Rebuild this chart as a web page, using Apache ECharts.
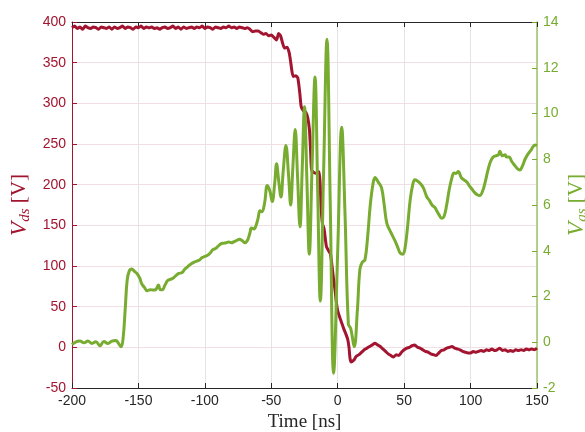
<!DOCTYPE html>
<html>
<head>
<meta charset="utf-8">
<script src="https://cdn.jsdelivr.net/npm/echarts@6/dist/echarts.min.js"></script>
<style>
  html, body { margin: 0; padding: 0; background: #fff; }
  #main { width: 585px; height: 432px; }
</style>
</head>
<body>
<div id="main"></div>
<script>
// time axis ticks
const xTicks = [-200, -150, -100, -50, 0, 50, 100, 150];
const vdsTicks = [-50, 0, 50, 100, 150, 200, 250, 300, 350, 400];
const vgsTicks = [-2, 0, 2, 4, 6, 8, 10, 12, 14];

// Vds [V] vs time [ns]
const vdsData = [
  [-200,393],[-198,395],[-196,392],[-194,394],[-192,391],[-190,395],[-188,393],[-186,392],[-184,394],[-182,393],
  [-180,391],[-178,394],[-176,393],[-174,392],[-172,394],[-170,391],[-168,394],[-166,392],[-164,393],[-162,395],
  [-160,392],[-158,394],[-156,393],[-154,391],[-152,394],[-150,393],[-148,395],[-146,392],[-144,394],[-142,393],
  [-140,394],[-138,392],[-136,393],[-134,391],[-132,393],[-130,394],[-128,392],[-126,393],[-124,395],[-122,392],
  [-120,394],[-118,391],[-116,394],[-114,392],[-112,393],[-110,394],[-108,392],[-106,394],[-104,393],[-102,395],
  [-100,392],[-98,394],[-96,393],[-94,391],[-92,394],[-90,393],[-88,392],[-86,394],[-84,393],[-82,395],
  [-80,393],[-78,394],[-76,392],[-74,394],[-72,393],[-70,392],[-68,393],[-66,391],[-64,388],[-62,389],
  [-60,389],[-58,387],[-56,385],[-54,386],[-52,383],[-50,384],[-48,381],[-46,378],[-44.5,386],[-43,383],
  [-41.5,374],[-40,368],[-38,369],[-36.5,362],[-35.5,352],[-34.5,340],[-33.5,333],[-31.5,334],[-30,331],[-28.5,312],
  [-27.5,296],[-26,291],[-24,289],[-22.5,282],[-21.3,268],[-20.5,245],[-19.7,218],[-18,215],[-16,214],[-14,216],
  [-13.2,200],[-12.6,174],[-11.5,152],[-10.3,146],[-8.5,124],[-7,119],[-5.5,115],[-4.5,103],[-3.2,85],[-2,70],
  [-1,55],[0,45],[1.5,37],[3,30],[4.5,23],[6,17],[7.5,10],[8.5,0],[9.3,-14],[10.3,-18],
  [12,-16],[14,-11],[16,-9],[18,-6],[20,-3],[22,-1],[24,1],[26,3],[28,5],[30,3],
  [32,1],[34,-2],[36,-5],[38,-8],[40,-10],[42,-12],[44,-9],[46,-10],[48,-6],[50,-3],
  [52,-1],[54,0],[56,2],[58,3],[60,0],[62,-1],[64,-3],[66,-5],[68,-6],[70,-8],
  [72,-9],[74,-10],[76,-7],[78,-4],[80,-3],[82,-1],[84,0],[86,1],[88,-1],[90,-2],
  [92,-3],[94,-5],[96,-6],[98,-7],[100,-7],[102,-5],[104,-6],[106,-5],[108,-4],[110,-5],
  [112,-3],[114,-4],[116,-2],[118,-4],[120,-3],[122,-1],[124,-4],[126,-3],[128,-5],[130,-4],
  [132,-5],[134,-3],[136,-4],[138,-3],[140,-4],[142,-2],[144,-3],[146,-2],[148,-3],[150,-1]
];

// Vgs [V] vs time [ns]
const vgsData = [
  [-200,-0.1],[-197,0.02],[-194,0.05],[-191,-0.02],[-188,0.05],[-185,-0.05],[-182,0.02],[-179,-0.15],[-176,0.03],[-173,-0.05],
  [-170,0.05],[-167,0.08],[-165,-0.05],[-163,-0.2],[-161.5,0.2],[-160,1.4],[-158.5,2.7],[-157,3.1],[-155,3.2],[-153,3.1],
  [-151,3.0],[-149,2.8],[-147.5,2.55],[-145.5,2.4],[-143.5,2.25],[-141,2.3],[-139,2.28],[-137,2.3],[-135,2.5],[-133.5,2.3],
  [-132,2.3],[-130,2.5],[-128,2.7],[-126,2.75],[-124,2.8],[-122,2.9],[-120,3.0],[-117,3.05],[-115,3.2],[-113,3.3],
  [-111,3.4],[-108,3.5],[-106,3.55],[-104,3.6],[-102,3.7],[-100,3.75],[-98,3.8],[-96,3.9],[-94,4.05],[-92,4.1],
  [-90,4.2],[-88,4.3],[-86,4.33],[-84,4.35],[-82,4.38],[-80,4.35],[-78,4.4],[-76,4.45],[-74,4.5],[-72,4.45],
  [-70,4.35],[-68,4.45],[-66,4.8],[-65,5.0],[-63,4.95],[-61.5,5.1],[-60,5.4],[-58.5,5.75],[-57,5.7],[-55,6.1],
  [-53,6.85],[-51,6.6],[-49.3,6.15],[-47.5,6.9],[-46,7.8],[-44.5,7.1],[-42.7,6.35],[-41,7.5],[-39,8.6],[-37,7.3],
  [-35.4,6.0],[-33.8,7.6],[-32,9.3],[-30.2,7.2],[-28.4,5.05],[-26.7,7.6],[-25,10.3],[-23.2,7.1],[-21.4,3.85],[-19.3,7.7],
  [-17.1,11.6],[-15.1,6.7],[-13.1,1.8],[-10.6,7.5],[-8.1,13.25],[-5.6,6.0],[-3.1,-1.35],[0,4.0],[3,9.4],[5.5,5.6],
  [8,0.8],[9.8,0.6],[12.4,-0.2],[14.8,1.4],[16.7,3.2],[18.5,3.5],[20.5,3.6],[22.5,4.6],[24.5,6.0],[26.5,6.9],
  [28.1,7.2],[30.5,7.0],[33,6.75],[35,6.0],[37,5.2],[40,4.8],[43.4,4.4],[45.5,4.1],[47,3.9],[49,3.85],
  [50.5,4.05],[52.5,5.0],[54.5,6.2],[56.5,6.9],[58.1,7.1],[60,7.05],[62,6.95],[64.5,6.75],[67,6.36],[69,6.2],
  [71,6.0],[73,5.9],[74.5,5.75],[76,5.6],[78.2,5.42],[80,5.5],[82,6.0],[84,6.7],[86,7.2],[87.5,7.4],
  [89,7.38],[90.7,7.46],[93,7.2],[95,7.1],[97,7.02],[99,6.85],[101,6.7],[103,6.55],[105,6.45],[107,6.42],
  [109,6.6],[111,7.0],[113,7.5],[115,7.9],[117,8.1],[119,8.15],[121,8.2],[122,8.35],[124,8.15],[126,8.2],
  [127,8.1],[129,8.1],[131,7.9],[133,7.75],[135,7.6],[137,7.53],[139,7.7],[141,8.0],[143.5,8.25],[145.5,8.4],
  [147,8.55],[148.6,8.62],[150,8.6]
];

const red = '#a2142f';
const green = '#77ac30';

const chart = echarts.init(document.getElementById('main'));

const option = {
  backgroundColor: '#ffffff',
  animation: false,
  grid: { left: 72, right: 48, top: 22, bottom: 44, containLabel: false, outerBoundsMode: 'none' },
  xAxis: [{
    type: 'value',
    min: xTicks[0],
    max: xTicks[xTicks.length - 1],
    interval: 50,
    name: 'Time [ns]',
    nameLocation: 'middle',
    nameGap: 25,
    nameMoveOverlap: false,
    nameTextStyle: { fontFamily: 'Liberation Serif', fontSize: 19, color: '#262626' },
    axisLine: { onZero: false, lineStyle: { color: '#262626', width: 1 } },
    axisTick: { inside: true, length: 5, lineStyle: { color: '#262626' } },
    axisLabel: { color: '#262626', fontFamily: 'Liberation Sans', fontSize: 14, margin: 6 },
    splitLine: { show: true, lineStyle: { color: '#e4e4e4', width: 1 } }
  }, {
    type: 'value',
    position: 'top',
    min: xTicks[0],
    max: xTicks[xTicks.length - 1],
    interval: 50,
    axisLine: { onZero: false, lineStyle: { color: '#262626', width: 1 } },
    axisTick: { inside: true, length: 5, lineStyle: { color: '#262626' } },
    axisLabel: { show: false },
    splitLine: { show: false }
  }],
  yAxis: [{
    type: 'value',
    min: vdsTicks[0],
    max: vdsTicks[vdsTicks.length - 1],
    interval: 50,
    name: '{v|V}{s|ds}{b| [V]}',
    nameLocation: 'middle',
    nameGap: 39,
    nameRotate: 90,
    nameMoveOverlap: false,
    nameTextStyle: {
      color: red,
      rich: {
        v: { fontFamily: 'Liberation Serif', fontStyle: 'italic', fontSize: 23, color: red },
        s: { fontFamily: 'Liberation Serif', fontStyle: 'italic', fontSize: 15, color: red, padding: [12, 0, 0, 0] },
        b: { fontFamily: 'Liberation Serif', fontSize: 21, color: red }
      }
    },
    axisLine: { show: true, onZero: false, lineStyle: { color: red, width: 1 } },
    axisTick: { show: true, inside: true, length: 5, lineStyle: { color: red } },
    axisLabel: { color: red, fontFamily: 'Liberation Sans', fontSize: 14, margin: 6 },
    splitLine: { show: true, lineStyle: { color: '#f2dfe3', width: 1 } }
  }, {
    type: 'value',
    position: 'right',
    min: vgsTicks[0],
    max: vgsTicks[vgsTicks.length - 1],
    interval: 2,
    name: '{v|V}{s|gs}{b| [V]}',
    nameLocation: 'middle',
    nameGap: 26,
    nameRotate: 90,
    nameMoveOverlap: false,
    nameTextStyle: {
      color: green,
      rich: {
        v: { fontFamily: 'Liberation Serif', fontStyle: 'italic', fontSize: 23, color: green },
        s: { fontFamily: 'Liberation Serif', fontStyle: 'italic', fontSize: 15, color: green, padding: [12, 0, 0, 0] },
        b: { fontFamily: 'Liberation Serif', fontSize: 21, color: green }
      }
    },
    axisLine: { show: true, onZero: false, lineStyle: { color: '#9cc46a', width: 1.5 } },
    axisTick: { show: true, inside: true, length: 5, lineStyle: { color: green } },
    axisLabel: { color: green, fontFamily: 'Liberation Sans', fontSize: 14, margin: 6 },
    splitLine: { show: false }
  }],
  series: [{
    name: 'Vds',
    type: 'line',
    xAxisIndex: 0,
    yAxisIndex: 0,
    data: vdsData,
    showSymbol: false,
    smooth: 0.2,
    lineStyle: { color: red, width: 3 },
    z: 2
  }, {
    name: 'Vgs',
    type: 'line',
    xAxisIndex: 0,
    yAxisIndex: 1,
    data: vgsData,
    showSymbol: false,
    smooth: 0.4,
    lineStyle: { color: green, width: 3 },
    z: 3
  }]
};

chart.setOption(option);
</script>
</body>
</html>
